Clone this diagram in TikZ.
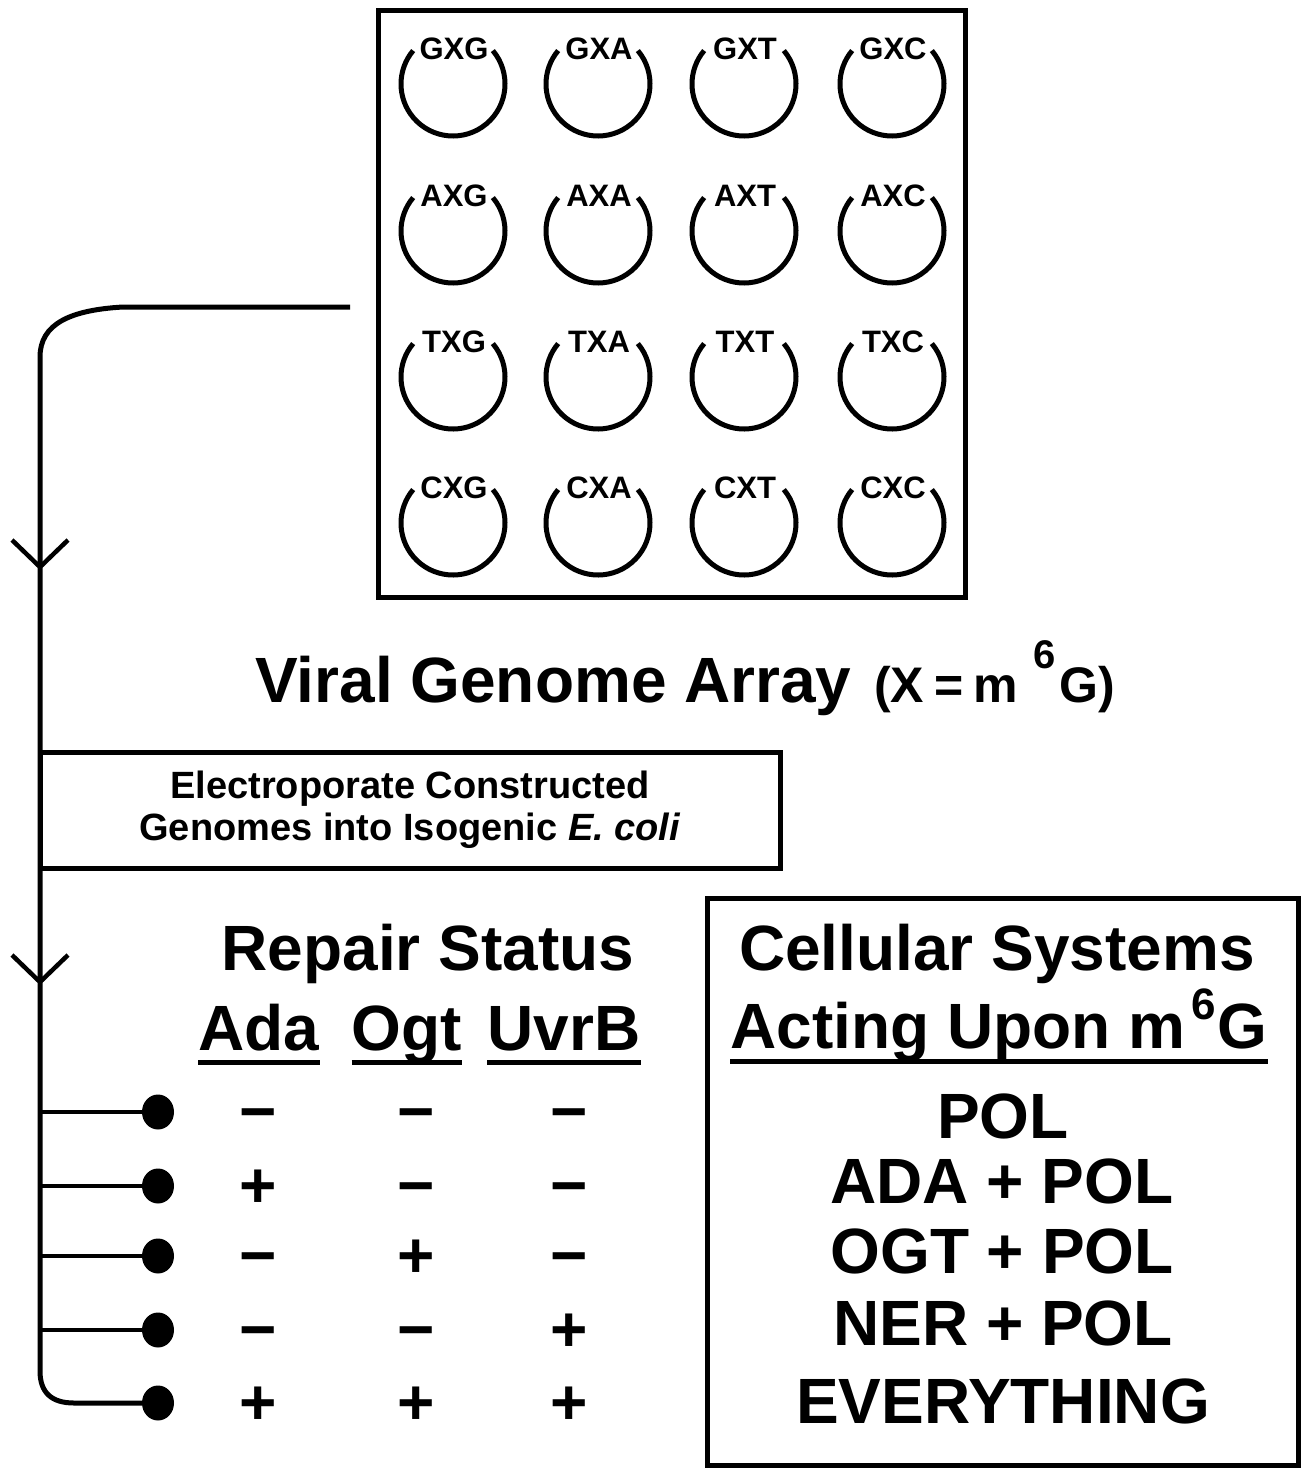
\documentclass[tikz,border=0pt]{standalone}
\usepackage{fontspec}
\setmainfont{Liberation Sans}
\tikzset{
  frame/.style={draw, line width=5pt, inner sep=0pt},
  ring/.style={line width=5pt},
  conn/.style={line width=5pt},
  branch/.style={line width=4.5pt},
  barb/.style={line width=4.5pt},
  dotn/.style={ellipse, fill, inner sep=0pt, minimum width=32pt, minimum height=35pt},
  lbl/.style={font=\bfseries\fontsize{31}{31}\selectfont, inner sep=0pt},
  big/.style={font=\bfseries\fontsize{64}{64}\selectfont, inner sep=0pt, anchor=base},
  sgn/.style={font=\bfseries\fontsize{64}{64}\selectfont, inner sep=0pt, anchor=base},
  ul/.style={line width=5pt}
}
\usetikzlibrary{shapes.geometric}
\begin{document}
\begin{tikzpicture}[x=1pt,y=-1pt]
\useasboundingbox (0,0) rectangle (1303,1468);

% ---- viral genome array box ----
\node[frame, minimum width=587pt, minimum height=587pt] (arr) at (671.5,303.5) {};
\foreach \rw/\ry in {G/84, A/231, T/377, C/523} {
  \foreach \cl/\cx in {G/453, A/598, T/744, C/892} {
    \draw[ring] (\cx,\ry) ++(-40:52) arc[start angle=-40, end angle=220, radius=52];
    \node[lbl] (l\rw\cl) at (\cx+1,\ry-35) {\rw X\cl};
  }
}

% ---- title ----
\node[anchor=base west, inner sep=0pt, font=\bfseries\fontsize{64}{64}\selectfont] (title) at (255,702) {Viral Genome Array};
\node[anchor=base west, inner sep=0pt, font=\bfseries\fontsize{50}{50}\selectfont] (xdef) at (874,702)
  {\spaceskip=10pt (X = m\kern16pt\raisebox{34pt}{\fontsize{40}{40}\selectfont 6}\kern3pt G)};

% ---- electroporation box ----
\node[frame, minimum width=740pt, minimum height=116pt, align=center,
      font=\bfseries\fontsize{38}{42}\selectfont] (elec) at (410,810)
  {Electroporate Constructed\\Genomes into Isogenic \textit{E. coli}};

% ---- trunk connector ----
\coordinate (s) at (350,307);
\coordinate (k1) at (123,307);
\coordinate (k2) at (40,357);
\coordinate (k3) at (40,1371);
\coordinate (k4) at (74,1403);
\node[dotn] (d1) at (158,1112) {};
\node[dotn] (d2) at (158,1186) {};
\node[dotn] (d3) at (158,1256) {};
\node[dotn] (d4) at (158,1330) {};
\node[dotn] (d5) at (158,1403) {};
\draw[conn] (s) -- (k1) .. controls (70,310) and (40,324) .. (k2) -- (k3)
  .. controls (40,1393) and (52,1403) .. (k4) -- (d5);
\foreach \i/\y in {1/1112, 2/1186, 3/1256, 4/1330} {
  \coordinate (t\i) at (40,\y);
  \draw[branch] (t\i) -- (d\i);
}
% arrow barbs on the trunk
\coordinate (a1) at (40,567);
\coordinate (a1l) at (12,540);
\coordinate (a1r) at (68,540);
\draw[barb] (a1l) -- (a1) -- (a1r);
\coordinate (a2) at (40,982);
\coordinate (a2l) at (12,955);
\coordinate (a2r) at (68,955);
\draw[barb] (a2l) -- (a2) -- (a2r);

% ---- repair status table ----
\node[big] (rs) at (428,970) {Repair Status};
\node[big] (ada) at (259,1050) {Ada};
\node[big] (ogt) at (407,1050) {Ogt};
\node[big] (uvr) at (564,1050) {UvrB};
\draw[ul] ([yshift=-12pt]ada.base west) -- ([yshift=-12pt]ada.base east);
\draw[ul] ([yshift=-12pt]ogt.base west) -- ([yshift=-12pt]ogt.base east);
\draw[ul] ([yshift=-12pt]uvr.base west) -- ([yshift=-12pt]uvr.base east);

\foreach \i/\y/\a/\b/\c in {1/1112/−/−/−, 2/1186/+/−/−, 3/1256/−/+/−, 4/1330/−/−/+, 5/1403/+/+/+} {
  \node[sgn] (sa\i) at (258,\y+21) {\a};
  \node[sgn] (sb\i) at (416,\y+21) {\b};
  \node[sgn] (sc\i) at (569,\y+21) {\c};
}

% ---- cellular systems box ----
\node[frame, minimum width=591pt, minimum height=567pt] (sys) at (1002.5,1181.5) {};
\node[big] (cs) at (997,970) {Cellular Systems};
\node[big] (au) at (999,1048) {Acting Upon m\kern6pt\raisebox{29pt}{\fontsize{44}{44}\selectfont 6}\kern2pt G};
\draw[ul] ([yshift=-13pt]au.base west) -- ([yshift=-13pt]au.base east);
\node[big] (p1) at (1003,1138) {POL};
\node[big] (p2) at (1002,1203) {ADA + POL};
\node[big] (p3) at (1002,1273) {OGT + POL};
\node[big] (p4) at (1003,1345) {NER + POL};
\node[big] (p5) at (1003,1423) {EVERYTHING};
\end{tikzpicture}
\end{document}
